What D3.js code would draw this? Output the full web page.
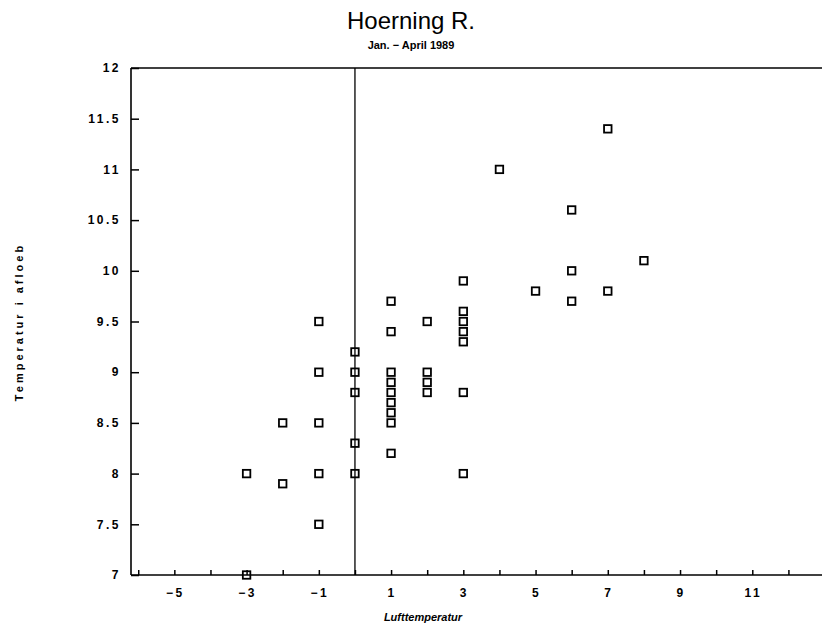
<!DOCTYPE html>
<html>
<head>
<meta charset="utf-8">
<script src="https://cdn.jsdelivr.net/npm/d3@7"></script>
<style>
  html, body { margin: 0; padding: 0; background: #fff; }
  svg { display: block; }
  text { font-family: "Liberation Sans", Arial, sans-serif; fill: #000; }
</style>
</head>
<body>
<svg id="chart" width="822" height="633"></svg>
<script>
// Data: x = Lufttemperatur, y = Temperatur i afloeb
const airTemp = [-3, -3, -2, -2, -1, -1, -1, -1, -1, 0, 0, 0, 0, 0,
  1, 1, 1, 1, 1, 1, 1, 1, 1, 2, 2, 2, 2,
  3, 3, 3, 3, 3, 3, 3, 4, 5, 6, 6, 6, 7, 7, 8];
const outletTemp = [8.0, 7.0, 8.5, 7.9, 9.5, 9.0, 8.5, 8.0, 7.5, 9.2, 9.0, 8.8, 8.3, 8.0,
  9.7, 9.4, 9.0, 8.9, 8.8, 8.7, 8.6, 8.5, 8.2, 9.5, 9.0, 8.9, 8.8,
  9.9, 9.6, 9.5, 9.4, 9.3, 8.8, 8.0, 11.0, 9.8, 10.6, 10.0, 9.7, 11.4, 9.8, 10.1];
const xTickValues = [-5, -3, -1, 1, 3, 5, 7, 9, 11];
const xMinorTicks = d3.range(-6, 13);
const yTickValues = [7, 7.5, 8, 8.5, 9, 9.5, 10, 10.5, 11, 11.5, 12];
const titleText = "Hoerning R.";
const subtitleText = "Jan. \u2212 April 1989";
const xLabel = "Lufttemperatur";
const yLabel = "Temperatur i afloeb";

const svg = d3.select("#chart");
const mLeft = 131, mRight = 822, mTop = 68, mBottom = 575;

const x = d3.scaleLinear().domain([-6.2, 12.93]).range([mLeft, mRight]);
const y = d3.scaleLinear().domain([7, 12]).range([mBottom, mTop]);

// frame lines
svg.append("line").attr("x1", mLeft).attr("x2", mRight).attr("y1", mTop).attr("y2", mTop)
  .attr("stroke", "#000").attr("stroke-width", 1.3);
svg.append("line").attr("x1", mLeft).attr("x2", mRight).attr("y1", mBottom).attr("y2", mBottom)
  .attr("stroke", "#000").attr("stroke-width", 1.6);
svg.append("line").attr("x1", mLeft).attr("x2", mLeft).attr("y1", mTop).attr("y2", mBottom)
  .attr("stroke", "#000").attr("stroke-width", 1.6);
// zero line
svg.append("line").attr("x1", x(0)).attr("x2", x(0)).attr("y1", mTop).attr("y2", mBottom)
  .attr("stroke", "#000").attr("stroke-width", 1.3);

// y axis
const yAxis = d3.axisRight(y).tickValues(yTickValues).tickSize(8).tickFormat("");
const gy = svg.append("g").attr("transform", `translate(${mLeft},0)`).call(yAxis);
gy.select(".domain").remove();
gy.selectAll("line").attr("stroke", "#000").attr("stroke-width", 1.5);
svg.append("g").selectAll("text").data(yTickValues).join("text")
  .attr("x", 121).attr("y", d => y(d)).attr("dy", "0.35em")
  .attr("text-anchor", "end").attr("font-size", 12).attr("font-weight", "bold")
  .attr("letter-spacing", 2.5)
  .text(d => d3.format("")(d));

// x axis minor ticks (every integer, pointing up)
const xAxis = d3.axisTop(x).tickValues(xMinorTicks).tickSize(5).tickFormat("");
const gx = svg.append("g").attr("transform", `translate(0,${mBottom})`).call(xAxis);
gx.select(".domain").remove();
gx.selectAll("line").attr("stroke", "#000").attr("stroke-width", 1.5);
svg.append("g").selectAll("text").data(xTickValues).join("text")
  .attr("x", d => x(d) + 1).attr("y", 597)
  .attr("text-anchor", "middle").attr("font-size", 12).attr("font-weight", "bold")
  .attr("letter-spacing", 2.5)
  .text(d => (d < 0 ? "\u2212" + Math.abs(d) : String(d)));

// points
const pts = airTemp.map((v, i) => ({ x: v, y: outletTemp[i] }));
svg.append("g").selectAll("rect").data(pts).join("rect")
  .attr("x", d => x(d.x) - 3.75).attr("y", d => y(d.y) - 3.75)
  .attr("width", 7.5).attr("height", 7.5)
  .attr("fill", "none").attr("stroke", "#000").attr("stroke-width", 1.8);

// titles
svg.append("text").attr("x", 411).attr("y", 29).attr("text-anchor", "middle")
  .attr("font-size", 24).attr("font-family", "'DejaVu Sans', sans-serif").attr("font-weight", 200)
  .text(titleText);
svg.append("text").attr("x", 411).attr("y", 49).attr("text-anchor", "middle")
  .attr("font-size", 11).attr("font-weight", "bold")
  .text(subtitleText);
svg.append("text").attr("x", 423).attr("y", 621).attr("text-anchor", "middle")
  .attr("font-size", 11).attr("font-weight", "bold").attr("font-style", "italic")
  .text(xLabel);
svg.append("text").attr("transform", "translate(23,322) rotate(-90)")
  .attr("text-anchor", "middle").attr("font-size", 11).attr("font-weight", "bold")
  .attr("letter-spacing", 3)
  .text(yLabel);
</script>
</body>
</html>
